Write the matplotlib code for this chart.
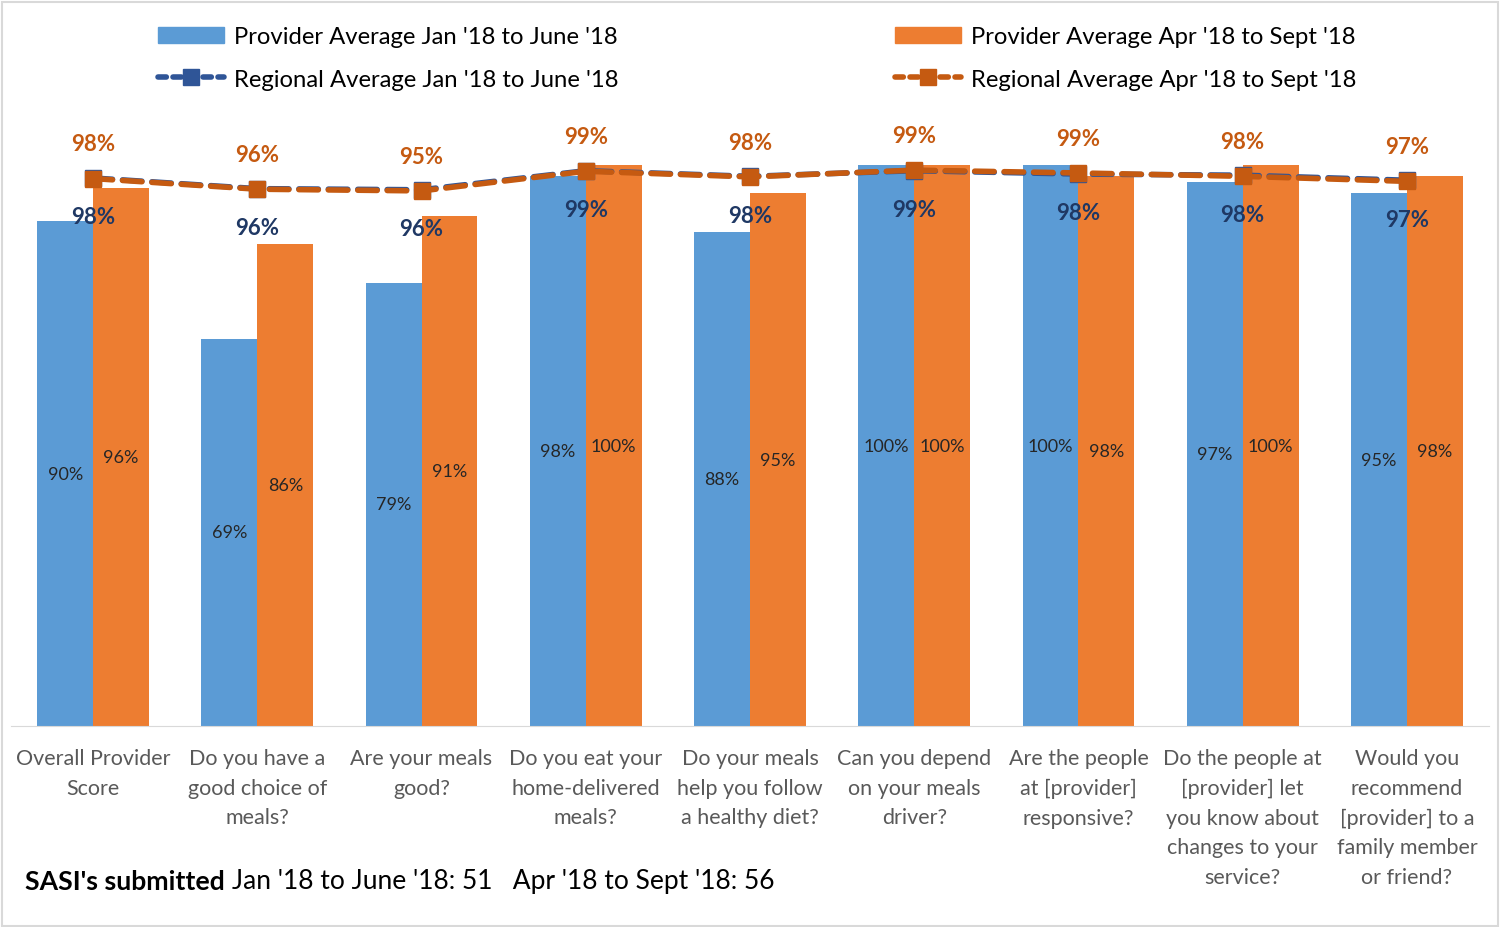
import numpy as np
import matplotlib.pyplot as plt
from matplotlib.lines import Line2D
from matplotlib.patches import Patch, Rectangle

plt.rcParams['font.family'] = ['Lato', 'DejaVu Sans']

categories = ["Overall Provider\nScore", "Do you have a\ngood choice of\nmeals?",
              "Are your meals\ngood?", "Do you eat your\nhome-delivered\nmeals?",
              "Do your meals\nhelp you follow\na healthy diet?",
              "Can you depend\non your meals\ndriver?", "Are the people\nat [provider]\nresponsive?",
              "Do the people at\n[provider] let\nyou know about\nchanges to your\nservice?",
              "Would you\nrecommend\n[provider] to a\nfamily member\nor friend?"]
provider_jan = [90, 69, 79, 98, 88, 100, 100, 97, 95]
provider_apr = [96, 86, 91, 100, 95, 100, 98, 100, 98]
regional_jan = [97.7, 95.8, 95.6, 99.0, 98.0, 99.0, 98.4, 98.2, 97.3]
regional_apr = [97.6, 95.7, 95.4, 98.9, 97.9, 99.1, 98.6, 98.0, 97.1]
labels_jan = ["98%", "96%", "96%", "99%", "98%", "99%", "98%", "98%", "97%"]
labels_apr = ["98%", "96%", "95%", "99%", "98%", "99%", "99%", "98%", "97%"]

blue = '#5B9BD5'
orange = '#ED7D31'
navy = '#2F5597'
dkorange = '#C55A11'

fig = plt.figure(figsize=(15.04, 9.28), dpi=100)
ax = fig.add_axes([11/1504, 1 - 727/928, 1478/1504, 617/928])

x = np.arange(len(categories))
w = 0.34
b1 = ax.bar(x - w/2, provider_jan, w, color=blue)
b2 = ax.bar(x + w/2, provider_apr, w, color=orange)
for bars, vals in ((b1, provider_jan), (b2, provider_apr)):
    for r, v in zip(bars, vals):
        ax.text(r.get_x() + r.get_width()/2, v/2, f"{v}%", ha='center', va='center',
                fontsize=13, color='#262626')

ax.plot(x, regional_jan, color=navy, lw=4, ls=(0, (3.5, 1.8)), marker='s', ms=12,
        dash_capstyle='round', zorder=3)
ax.plot(x, regional_apr, color=dkorange, lw=4, ls=(0, (3.5, 1.8)), marker='s', ms=12,
        dash_capstyle='round', zorder=4)

for i in range(len(x)):
    ax.annotate(labels_apr[i], (x[i], regional_apr[i]), xytext=(0, 25), textcoords='offset points',
                ha='center', va='center', fontsize=16, fontweight='bold', color=dkorange, zorder=5)
    ax.annotate(labels_jan[i], (x[i], regional_jan[i]), xytext=(0, -28), textcoords='offset points',
                ha='center', va='center', fontsize=16, fontweight='bold', color='#1F3864', zorder=5)

ax.set_xlim(-0.5, 8.5)
ax.set_ylim(0, 110)
ax.set_yticks([])
ax.set_xticks(x)
ax.set_xticklabels(categories, fontsize=15.5, color='#595959', linespacing=1.6)
ax.tick_params(axis='x', length=0, pad=16)
for s in ['top', 'right', 'left']:
    ax.spines[s].set_visible(False)
ax.spines['bottom'].set_color('#D9D9D9')

h_bar1 = Patch(color=blue)
h_bar2 = Patch(color=orange)
h_l1 = Line2D([], [], color=navy, lw=4, ls=(0, (1.5, 1.2)), marker='s', ms=12, dash_capstyle='round')
h_l2 = Line2D([], [], color=dkorange, lw=4, ls=(0, (1.5, 1.2)), marker='s', ms=12, dash_capstyle='round')
leg_kw = dict(frameon=False, fontsize=17.2, handlelength=2.8, handleheight=0.7, labelspacing=0.88,
              handletextpad=0.4, loc='center left')
fig.legend([h_bar1, h_l1], ["Provider Average Jan '18 to June '18", "Regional Average Jan '18 to June '18"],
           bbox_to_anchor=(136/1504, 1 - 59/928), **leg_kw)
fig.legend([h_bar2, h_l2], ["Provider Average Apr '18 to Sept '18", "Regional Average Apr '18 to Sept '18"],
           bbox_to_anchor=(873/1504, 1 - 59/928), **leg_kw)

t1 = fig.text(25/1504, 1 - 882/928, "SASI's submitted", fontsize=19.2, fontweight='bold', va='center')
fig.canvas.draw()
bb = t1.get_window_extent(renderer=fig.canvas.get_renderer())
fig.text(bb.x1/1504 + 7/1504, 1 - 882/928, "Jan '18 to June '18: 51   Apr '18 to Sept '18: 56",
         fontsize=19, va='center')

fig.patches.append(Rectangle((0.001, 0.001), 1 - 8/1504, 1 - 4/928, transform=fig.transFigure,
                             fill=False, edgecolor='#D9D9D9', lw=1.5))

fig.savefig('out.png', dpi=100)
